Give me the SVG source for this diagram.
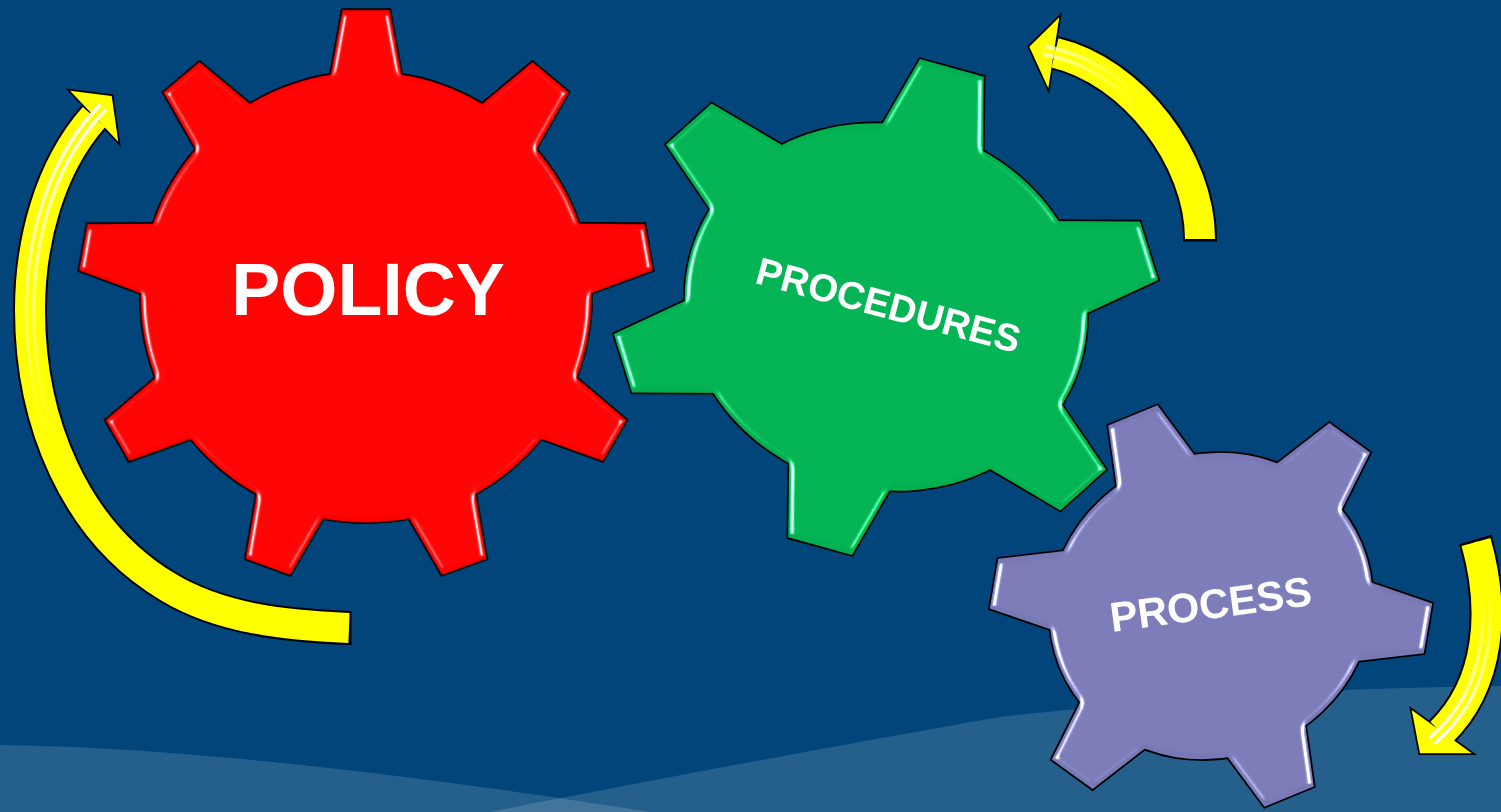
<svg xmlns="http://www.w3.org/2000/svg" xmlns:xlink="http://www.w3.org/1999/xlink" width="1501" height="812" viewBox="0 0 1501 812">
<style>
.lbl{font-family:"Liberation Sans",Arial,sans-serif;font-weight:bold;fill:#fff;text-anchor:middle}
.sho{fill:none;stroke:#000;stroke-width:34;stroke-linecap:butt}
.sh{fill:none;stroke:#ffff00;stroke-width:30;stroke-linecap:butt}
.hdo{fill:#000;stroke:#000;stroke-width:3.5;stroke-linejoin:miter}
.hd{fill:#ffff00;stroke:none}
.core{fill:none;stroke:#ffff00;stroke-width:4}
.wave{fill:#fff;fill-opacity:0.14}
</style>
<defs>
  <path id="t9" d="M-8.2,-100 L8.2,-100 L14,-68 L-14,-68 Z" vector-effect="non-scaling-stroke"/>
  <path id="t6" d="M-12,-100 L12,-100 L21,-62 L-21,-62 Z" vector-effect="non-scaling-stroke"/>
  <g id="g9">
    <circle r="78.5" vector-effect="non-scaling-stroke"/>
    <use xlink:href="#t9"/>
    <use xlink:href="#t9" transform="rotate(40)"/>
    <use xlink:href="#t9" transform="rotate(80)"/>
    <use xlink:href="#t9" transform="rotate(120)"/>
    <use xlink:href="#t9" transform="rotate(160)"/>
    <use xlink:href="#t9" transform="rotate(200)"/>
    <use xlink:href="#t9" transform="rotate(240)"/>
    <use xlink:href="#t9" transform="rotate(280)"/>
    <use xlink:href="#t9" transform="rotate(320)"/>
  </g>
  <g id="g6">
    <circle r="73.5" vector-effect="non-scaling-stroke"/>
    <use xlink:href="#t6"/>
    <use xlink:href="#t6" transform="rotate(60)"/>
    <use xlink:href="#t6" transform="rotate(120)"/>
    <use xlink:href="#t6" transform="rotate(180)"/>
    <use xlink:href="#t6" transform="rotate(240)"/>
    <use xlink:href="#t6" transform="rotate(300)"/>
  </g>
  <filter id="bevel" x="-5%" y="-5%" width="110%" height="110%" color-interpolation-filters="sRGB">
    <feGaussianBlur in="SourceAlpha" stdDeviation="3.5" result="b"/>
    <feSpecularLighting in="b" surfaceScale="7" specularConstant="1.2" specularExponent="40" lighting-color="#fff" result="s1"><feDistantLight azimuth="180" elevation="35"/></feSpecularLighting>
    <feSpecularLighting in="b" surfaceScale="7" specularConstant="1.2" specularExponent="40" lighting-color="#fff" result="s2"><feDistantLight azimuth="0" elevation="35"/></feSpecularLighting>
    <feComposite in="s1" in2="s2" operator="arithmetic" k1="0" k2="1" k3="1" k4="0" result="s"/>
    <feComposite in="s" in2="SourceAlpha" operator="in" result="si"/>
    <feComposite in="SourceGraphic" in2="si" operator="arithmetic" k1="0" k2="1" k3="0.9" k4="0"/>
  </filter>
  <linearGradient id="hl1" gradientUnits="userSpaceOnUse" x1="0" y1="100" x2="0" y2="440">
    <stop offset="0" stop-color="#fff" stop-opacity="0.95"/>
    <stop offset="0.6" stop-color="#fff" stop-opacity="0.4"/>
    <stop offset="1" stop-color="#fff" stop-opacity="0"/>
  </linearGradient>
  <linearGradient id="hl2" gradientUnits="userSpaceOnUse" x1="1040" y1="0" x2="1140" y2="0">
    <stop offset="0" stop-color="#ffffc0" stop-opacity="0.9"/>
    <stop offset="1" stop-color="#ffffc0" stop-opacity="0"/>
  </linearGradient>
  <linearGradient id="hl3" gradientUnits="userSpaceOnUse" x1="0" y1="590" x2="0" y2="735">
    <stop offset="0" stop-color="#fff" stop-opacity="0"/>
    <stop offset="1" stop-color="#fff" stop-opacity="0.95"/>
  </linearGradient>
</defs>

<rect width="1501" height="812" fill="#02457a"/>
<path class="wave" d="M0,745 C150,747 350,765 650,812 L0,812 Z"/>
<path class="wave" d="M490,812 C600,790 800,752 1000,717 C1200,695 1350,688 1501,686 L1501,812 Z"/>

<g id="connectors">
  <g id="arrow-policy">
    <path class="sho" d="M94,117 C49,168 30,242 30,310 C30,420 73.5,530.7 168,587 C221,619 287,625.5 349,628 L351.5,628"/>
    <polygon class="hdo" points="70,90.7 111.7,96 118.3,141.7"/>
    <path class="sh" d="M94,117 C49,168 30,242 30,310 C30,420 73.5,530.7 168,587 C221,619 287,625.5 349,628"/>
    <polygon class="hd" points="70,90.7 111.7,96 118.3,141.7"/>
    <path fill="none" stroke="url(#hl1)" stroke-width="11" d="M103,107 L94,117 C49,168 30,242 30,310 C30,420 73.5,530.7 168,587"/>
    <path class="core" d="M103,107 L94,117 C49,168 30,242 30,310 C30,420 73.5,530.7 168,587"/>
  </g>
  <g id="arrow-procedures">
    <path class="sho" d="M1055,52.8 C1132.8,71.3 1200,159 1200,239 L1200,241.5"/>
    <polygon class="hdo" points="1059.3,17.3 1029.3,46.7 1048.3,88.3"/>
    <path class="sh" d="M1055,52.8 C1132.8,71.3 1200,159 1200,239"/>
    <polygon class="hd" points="1059.3,17.3 1029.3,46.7 1048.3,88.3"/>
    <path fill="none" stroke="url(#hl2)" stroke-width="12" d="M1044,50 L1055,52.8 C1132.8,71.3 1200,159 1200,239"/>
    <path class="core" stroke-width="5" d="M1044,50 L1055,52.8 C1132.8,71.3 1200,159 1200,239"/>
  </g>
  <g id="arrow-process">
    <path class="sho" d="M1441,732.5 C1491,683.6 1495,609 1476,542 L1475.3,539.6"/>
    <polygon class="hdo" points="1411.7,710 1420,753.3 1471.7,753.3"/>
    <path class="sh" d="M1441,732.5 C1491,683.6 1495,609 1476,542"/>
    <polygon class="hd" points="1411.7,710 1420,753.3 1471.7,753.3"/>
    <path fill="none" stroke="url(#hl3)" stroke-width="11" d="M1432,741 L1441,732.5 C1491,683.6 1495,609 1476,542"/>
    <path class="core" d="M1432,741 L1441,732.5 C1491,683.6 1495,609 1476,542"/>
  </g>
</g>

<g id="policy">
  <g filter="url(#bevel)">
    <g transform="translate(366,297) scale(2.87)">
      <use xlink:href="#g9" fill="#ff0000" stroke="#000" stroke-width="3.5"/>
      <use xlink:href="#g9" fill="#ff0000" stroke="none"/>
    </g>
  </g>
  <text class="lbl" x="368" y="315" font-size="73.5">POLICY</text>
</g>

<g id="procedures">
  <g filter="url(#bevel)">
    <g transform="translate(886,307) rotate(15.4) scale(2.756,2.48)">
      <use xlink:href="#g6" fill="#00b050" stroke="#000" stroke-width="3.5"/>
      <use xlink:href="#g6" fill="#00b050" stroke="none"/>
    </g>
  </g>
  <text class="lbl" font-size="38.5" transform="translate(885,318) rotate(15)">PROCEDURES</text>
</g>

<g id="process">
  <g filter="url(#bevel)">
    <g transform="translate(1211,606) rotate(-22.3) scale(2.22,2.06)">
      <use xlink:href="#g6" fill="#7878b4" stroke="#000" stroke-width="3.5"/>
      <use xlink:href="#g6" fill="#7878b4" stroke="none"/>
    </g>
  </g>
  <text class="lbl" font-size="41.5" transform="translate(1212.5,618.4) rotate(-7.7)">PROCESS</text>
</g>
</svg>
